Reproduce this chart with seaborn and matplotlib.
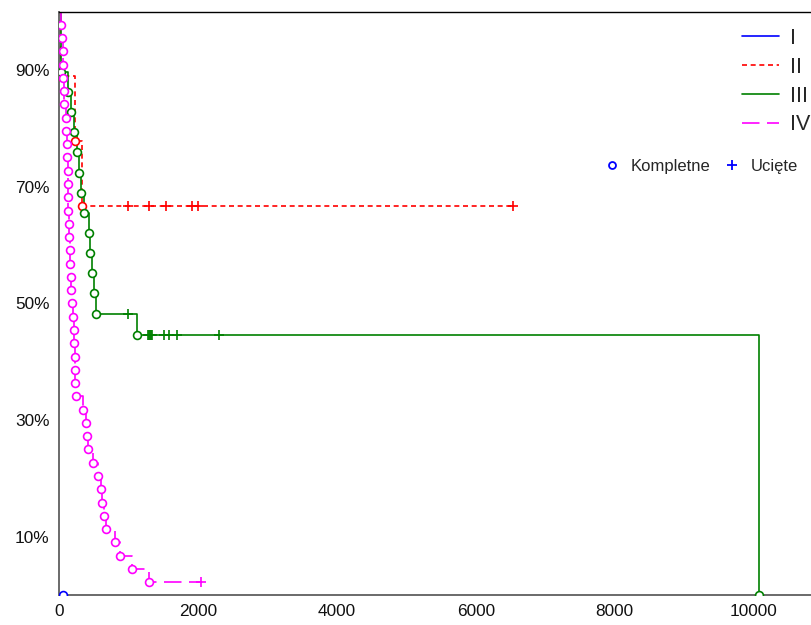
import numpy as np
import pandas as pd
import matplotlib
matplotlib.use("Agg")
import matplotlib.pyplot as plt
from matplotlib.lines import Line2D
from matplotlib.ticker import FuncFormatter
import seaborn as sns

# Survival times (days) and status flags (1 = complete / event, 0 = censored)
group_labels = ["I", "II", "III", "IV"]

times_I = [58]
status_I = [1]

times_II = [15, 226, 323, 990, 1293, 1535, 1908, 2003, 6538]
status_II = [1, 1, 1, 0, 0, 0, 0, 0, 0]

times_III = [25, 25, 25, 130, 173, 212, 255, 280, 313, 360, 428, 442, 471, 496, 525,
             994, 1115,
             1274, 1290, 1305, 1321, 1340, 1340, 1513, 1585, 1700, 1700, 2301,
             10083]
status_III = [1] * 15 + [0, 1] + [0] * 11 + [1]

times_IV = [29, 39, 49, 57, 60, 63, 72, 97, 101, 109, 113, 121, 124, 127, 130,
            135, 144, 150, 154, 164, 173, 179, 197, 210, 216, 222, 226, 231, 241,
            337, 385, 399, 418, 486, 553, 597, 620, 640, 673, 803, 877, 1043, 1297,
            2045]
status_IV = [1] * 43 + [0]

x_ticks = [0, 2000, 4000, 6000, 8000, 10000]
y_ticks_labeled = [0.1, 0.3, 0.5, 0.7, 0.9]
y_ticks_minor = [0.2, 0.4, 0.6, 0.8]

colors = {"I": "#0000ff", "II": "#ff0000", "III": "#008000", "IV": "#ff00ff"}
styles = {"I": "-", "II": (0, (3.0, 2.2)), "III": "-", "IV": (0, (10.5, 4.5))}


def kaplan_meier(times, status):
    df = pd.DataFrame({"t": times, "e": status}).sort_values("t")
    n = len(df)
    s = 1.0
    step_x, step_y = [0.0], [1.0]
    ev_x, ev_y, cens_x, cens_y = [], [], [], []
    for t, grp in df.groupby("t", sort=True):
        d = int(grp["e"].sum())
        c = int(len(grp) - d)
        if d:
            s *= 1.0 - d / n
            ev_x.append(t)
            ev_y.append(s)
        if c:
            cens_x.append(t)
            cens_y.append(s)
        step_x.append(t)
        step_y.append(s)
        n -= d + c
    return (pd.DataFrame({"t": step_x, "S": step_y}),
            pd.DataFrame({"t": ev_x, "S": ev_y}),
            pd.DataFrame({"t": cens_x, "S": cens_y}))


data = {
    "I": (times_I, status_I),
    "II": (times_II, status_II),
    "III": (times_III, status_III),
    "IV": (times_IV, status_IV),
}

sns.set_style("white")
plt.rcParams["font.family"] = ["Liberation Sans", "DejaVu Sans"]

fig = plt.figure(figsize=(8.11, 6.25), dpi=100)
W, H = 811, 625
x0_px, y_bot_px, y_top_px = 59.3, 595.4, 11.5
x_max = 11000
px_per_unit = 138.8 / 2000
ax = fig.add_axes([x0_px / W, 1 - y_bot_px / H,
                   x_max * px_per_unit / W, (y_bot_px - y_top_px) / H])

lw = 1.2
for g in group_labels:
    steps, events, cens = kaplan_meier(*data[g])
    c = colors[g]
    if len(steps) > 2:
        sns.lineplot(data=steps, x="t", y="S", ax=ax, color=c, lw=lw,
                     drawstyle="steps-post", estimator=None, sort=False,
                     zorder=2)
        ax.lines[-1].set_linestyle(styles[g])
    if len(events):
        sns.scatterplot(data=events, x="t", y="S", ax=ax, marker="o", s=32,
                        facecolor="white", edgecolor=c, linewidth=1.2,
                        zorder=4)
    if len(cens):
        sns.scatterplot(data=cens, x="t", y="S", ax=ax, marker="+", s=46,
                        color=c, linewidth=1.2, zorder=4)

ax.set_xlim(0, x_max)
ax.set_ylim(0, 1.0)
ax.set_xticks(x_ticks)
ax.set_yticks(y_ticks_labeled)
ax.set_yticks(y_ticks_minor, minor=True)
ax.yaxis.set_major_formatter(FuncFormatter(lambda v, p: f"{v * 100:.0f}%"))
ax.set_xlabel("")
ax.set_ylabel("")
ax.tick_params(axis="both", which="both", direction="in", length=3.2,
               width=0.9, color="#555555", labelsize=12.4, labelcolor="#111111")
ax.tick_params(axis="y", which="major", pad=7)
ax.tick_params(axis="x", which="major", pad=6)

for side in ["left", "bottom"]:
    ax.spines[side].set_color("#6a6a6a")
    ax.spines[side].set_linewidth(1.4)
ax.spines["top"].set_color("#000000")
ax.spines["top"].set_linewidth(1.0)
ax.spines["right"].set_visible(False)

# Group legend
group_handles = [Line2D([], [], color=colors[g], lw=lw, linestyle=styles[g])
                 for g in group_labels]
leg1 = fig.legend(group_handles, group_labels, loc="upper left",
                  bbox_to_anchor=(742 / W, 1 - 28 / H), frameon=False,
                  fontsize=15.5, handlelength=1.72, handletextpad=0.5,
                  labelspacing=0.36, borderpad=0, borderaxespad=0)

# Marker legend
mark_handles = [
    Line2D([], [], color="#0000ff", marker="o", linestyle="none",
           markersize=5, markerfacecolor="white", markeredgewidth=1.3),
    Line2D([], [], color="#0000ff", marker="+", linestyle="none",
           markersize=7, markeredgewidth=1.3),
]
leg2 = fig.legend(mark_handles, ["Kompletne", "Ucięte"], loc="center left",
                  bbox_to_anchor=(603.4 / W, 1 - 166 / H), frameon=False,
                  ncol=2, fontsize=12, handlelength=1.0, handletextpad=0.64,
                  columnspacing=0.8, borderpad=0, borderaxespad=0)

fig.savefig("out.png", dpi=100)
